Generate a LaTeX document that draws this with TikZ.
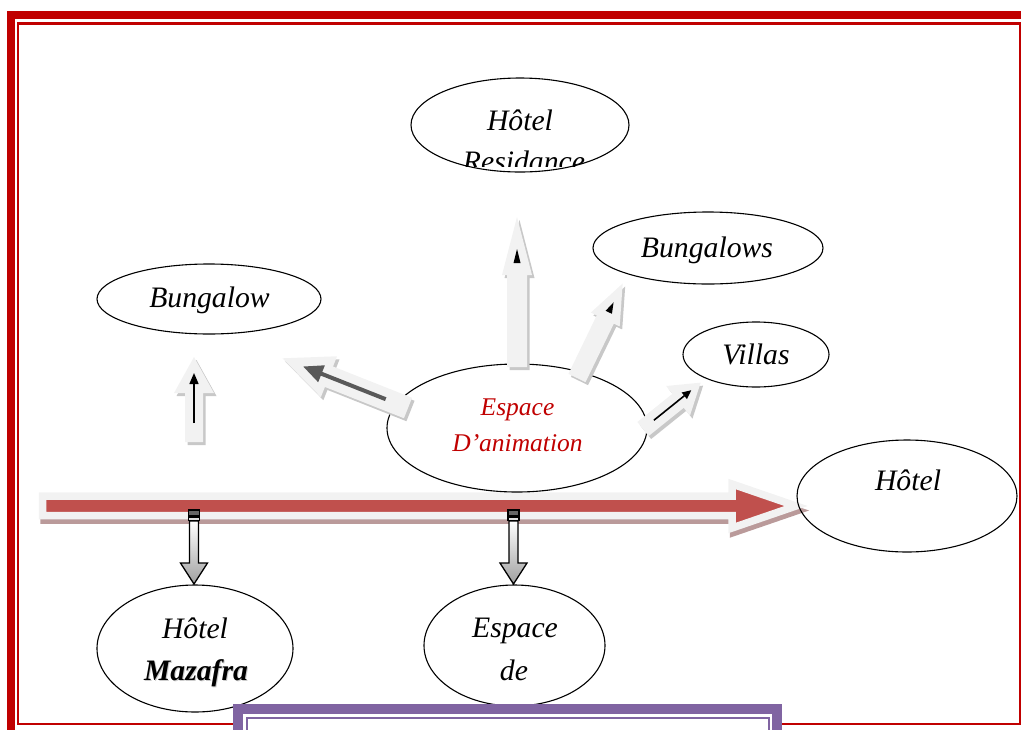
\documentclass[tikz,border=0pt]{standalone}
\usepackage{fontspec}
\setmainfont{Liberation Serif}
\usetikzlibrary{shapes.geometric,arrows.meta}
\definecolor{framered}{HTML}{C00000}
\definecolor{barred}{HTML}{C0504D}
\definecolor{purp}{HTML}{8064A2}
\definecolor{lightg}{HTML}{F2F2F2}
\definecolor{shadowg}{HTML}{C8C8C8}
\definecolor{redshadow}{HTML}{BA9A9A}
\definecolor{darkg}{HTML}{595959}
\definecolor{animred}{HTML}{C00000}
\tikzset{
  ell/.style={draw=black, line width=1.1pt, ellipse, inner sep=0pt},
  lbl/.style={font=\fontsize{29.7}{30}\selectfont\itshape, inner sep=0pt, anchor=base},
  redlbl/.style={font=\fontsize{25.5}{26}\selectfont\itshape, text=animred, inner sep=0pt, anchor=base},
  blkfill/.style={fill=lightg},
  blkshadow/.style={fill=shadowg},
  stripebox/.style={draw=black, line width=1.2pt},
}
% #1,#2 tail centre, #3 angle, #4 length, #5 shaft half width, #6 head half width, #7 head length
\newcommand{\blkarrow}[7]{%
  \begin{scope}[shift={(#1+2.5,#2+3)},rotate=#3]
    \path[blkshadow] (0,-#5) -- (#4-#7,-#5) -- (#4-#7,-#6) -- (#4,0) -- (#4-#7,#6) -- (#4-#7,#5) -- (0,#5) -- cycle;
  \end{scope}
  \begin{scope}[shift={(#1,#2)},rotate=#3]
    \path[blkfill] (0,-#5) -- (#4-#7,-#5) -- (#4-#7,-#6) -- (#4,0) -- (#4-#7,#6) -- (#4-#7,#5) -- (0,#5) -- cycle;
  \end{scope}}
\newcommand{\strarrow}[1]{%
  \draw[stripebox, fill=gray!80!black] (#1-5.5,510) rectangle (#1+5.5,515.5);
  \draw[stripebox, fill=gray!25] (#1-5.5,517) rectangle (#1+5.5,520.5);
  \draw[line width=1.3pt, top color=white, bottom color=gray!75, line join=miter]
    (#1-4.5,521) -- (#1-4.5,563) -- (#1-13.5,563) -- (#1,584) -- (#1+13.5,563) -- (#1+4.5,563) -- (#1+4.5,521) -- cycle;}
\begin{document}
\begin{tikzpicture}[x=1pt,y=-1pt]
\useasboundingbox (0,0) rectangle (1021,729);
\clip (0,0) rectangle (1021,729);
% page frame
\draw[framered, line width=8pt] (10.5,15) rectangle (1040,745);
\draw[framered, line width=2.5pt] (18.2,23.5) rectangle (1020.5,724);

% main red block arrow
\begin{scope}[shift={(1.5,4.5)}]
  \path[fill=redshadow, draw=redshadow, line width=7.5pt, line join=miter]
    (42.5,496) -- (732,496) -- (732,484) -- (796,506) -- (732,528) -- (732,515.5) -- (42.5,515.5) -- cycle;
\end{scope}
\path[fill=barred, draw=lightg, line width=7.5pt, line join=miter]
  (42.5,496) -- (732,496) -- (732,484) -- (796,506) -- (732,528) -- (732,515.5) -- (42.5,515.5) -- cycle;

% ellipses
\node[ell, minimum width=218pt, minimum height=94pt] (res) at (520,125) {};
\node[ell, minimum width=230pt, minimum height=72pt] (bgs) at (708,248) {};
\node[ell, minimum width=224pt, minimum height=70pt] (bg) at (209,299) {};
\node[ell, minimum width=146pt, minimum height=65pt] (vil) at (756,354.5) {};
\node[ell, minimum width=260pt, minimum height=128pt] (anim) at (517,428) {};
\node[ell, minimum width=220pt, minimum height=112pt] (hot) at (907,496) {};
\node[ell, minimum width=196pt, minimum height=127pt] (maz) at (195,648.5) {};
\node[ell, minimum width=181pt, minimum height=121pt] (esp) at (514.5,645.5) {};

% light block arrows
\blkarrow{517}{367}{90}{150}{10}{15}{58}
\begin{scope}[shift={(517,367)},rotate=90]
  \fill[black] (104,-3.5) -- (118,0) -- (104,3.5) -- cycle;
\end{scope}
\blkarrow{577}{378}{64.2}{105}{9.5}{16}{40}
\begin{scope}[shift={(577,378)},rotate=64.2]
  \fill[black] (73,-3.5) -- (84,0) -- (73,3.5) -- cycle;
\end{scope}
\blkarrow{643}{429}{38.8}{74}{9}{19}{29}
\begin{scope}[shift={(643,429)},rotate=38.8]
  \draw[black, line width=1.6pt, -{Triangle[length=9pt,width=8pt]}] (14,0) -- (62,0);
\end{scope}
\blkarrow{408}{408}{158.4}{135}{11}{22}{50}
\begin{scope}[shift={(408,408)},rotate=158.4]
  \draw[darkg, line width=4pt, -{Triangle[length=20pt,width=17pt]}] (24,0) -- (113,0);
\end{scope}
\blkarrow{194}{442}{90}{85}{9}{20}{36}
\begin{scope}[shift={(194,442)},rotate=90]
  \draw[black, line width=1.5pt, -{Triangle[length=11pt,width=9pt]}] (19,0) -- (69,0);
\end{scope}

% striped down arrows
\strarrow{194}
\strarrow{513.5}

% labels
\node[lbl] (tres1) at (520,130) {Hôtel};
\begin{scope}
  \clip (400,140) rectangle (640,166);
  \node[lbl] (tres2) at (524,171) {Residance};
\end{scope}
\node[lbl] (tbgs) at (707,257) {Bungalows};
\node[lbl] (tbg) at (209.5,307) {Bungalow};
\node[lbl] (tvil) at (756,364) {Villas};
\node[redlbl] (tan1) at (517.5,415) {Espace};
\node[redlbl] (tan2) at (517.5,451) {D’animation};
\node[lbl] (thot) at (908,490) {Hôtel};
\node[lbl] (tmaz1) at (195,638) {Hôtel};
\node[lbl, text=gray!40] (tmaz2s) at (197,681) {\bfseries Mazafra};
\node[lbl] (tmaz2) at (196,680) {\bfseries Mazafra};
\node[lbl] (tesp1) at (515,637) {Espace};
\node[lbl] (tesp2) at (514,680) {de};

% purple box at bottom
\fill[white] (233,704) rectangle (782,740);
\draw[purp, line width=10pt, line join=miter] (238,745) -- (238,709) -- (777,709) -- (777,745);
\draw[purp, line width=2pt, line join=miter] (246.5,745) -- (246.5,717.5) -- (768.5,717.5) -- (768.5,745);
\end{tikzpicture}
\end{document}
